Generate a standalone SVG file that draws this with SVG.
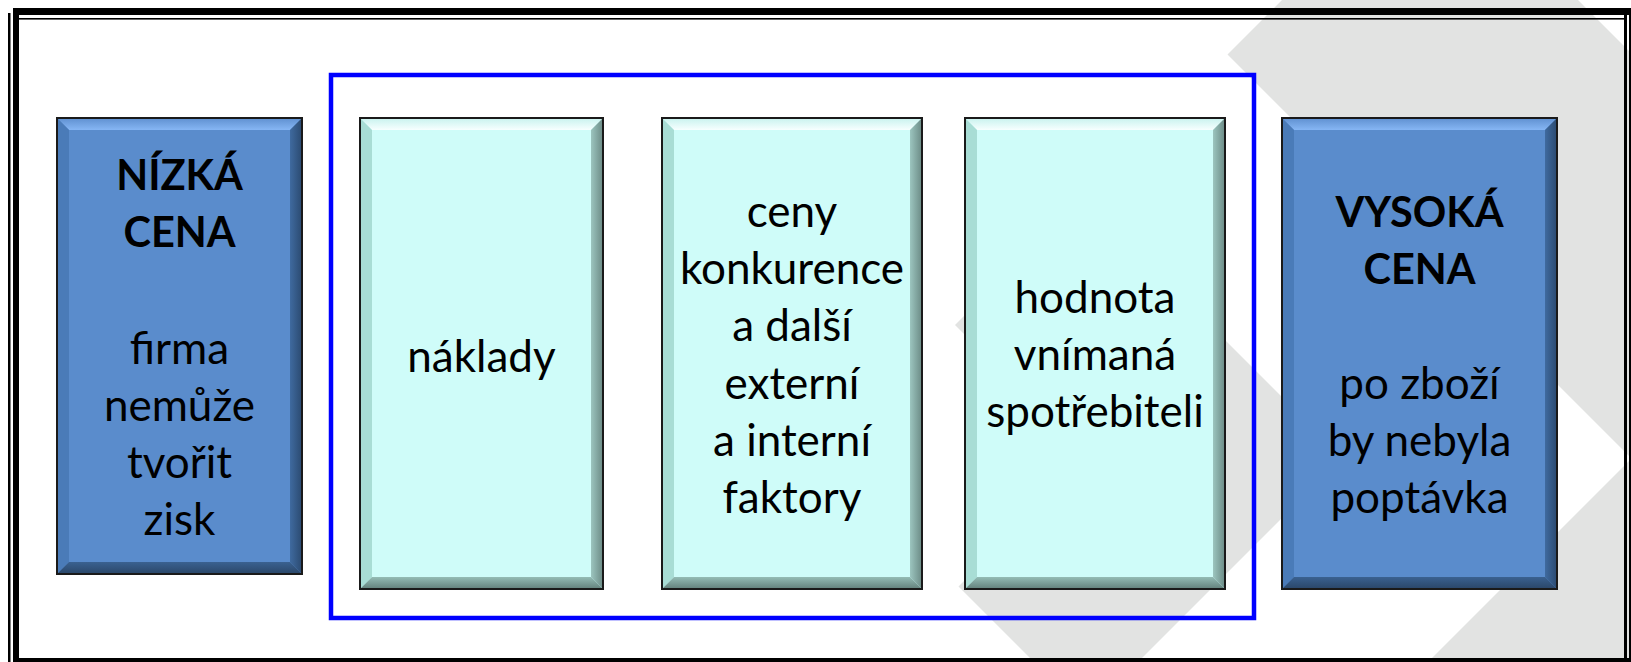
<svg xmlns="http://www.w3.org/2000/svg" width="1631" height="662" viewBox="0 0 1631 662">
<defs>
<style>
.bg{fill:#e2e3e2}
.t{font-family:Lato,"Liberation Sans",sans-serif;font-size:44px;fill:#000;text-anchor:middle}
.b{font-weight:700;font-size:41.5px}
.edge{fill:none;stroke:#1a1a1a;stroke-width:2}
.bl-base{fill:#5a8ccc}
.bl-top{fill:url(#blTop)}
.bl-left{fill:#4a7bb8}
.bl-right{fill:url(#blRight)}
.bl-bot{fill:url(#blBot)}
.tl-base{fill:#cffcf9}
.tl-top{fill:url(#tlTop)}
.tl-left{fill:#a8ddd5}
.tl-right{fill:url(#tlRight)}
.tl-bot{fill:url(#tlBot)}
.frame{fill:#000}
</style>
<linearGradient id="blTop" x1="0" y1="0" x2="0" y2="1"><stop offset="0" stop-color="#5f90d0"/><stop offset="1" stop-color="#86b6f4"/></linearGradient>
<linearGradient id="blRight" x1="0" y1="0" x2="1" y2="0"><stop offset="0" stop-color="#3f6a9f"/><stop offset="1" stop-color="#2b4a70"/></linearGradient>
<linearGradient id="blBot" x1="0" y1="0" x2="0" y2="1"><stop offset="0" stop-color="#3a6190"/><stop offset="1" stop-color="#2a4668"/></linearGradient>
<linearGradient id="tlTop" x1="0" y1="0" x2="0" y2="1"><stop offset="0" stop-color="#c8f2ee"/><stop offset="1" stop-color="#f7ffff"/></linearGradient>
<linearGradient id="tlRight" x1="0" y1="0" x2="1" y2="0"><stop offset="0" stop-color="#9cc5bf"/><stop offset="1" stop-color="#6b8a85"/></linearGradient>
<linearGradient id="tlBot" x1="0" y1="0" x2="0" y2="1"><stop offset="0" stop-color="#94bcb5"/><stop offset="1" stop-color="#62807b"/></linearGradient>
</defs>
<rect x="0" y="0" width="1631" height="662" fill="#fff"/>
<g id="background">
<polygon class="bg" points="1227.5,54.5 1430,-148 2036.5,458.5 1795,700 1390,700 1631.5,458.5"/>
<polygon class="bg" points="955,325 1082.5,197.5 1342.5,457.5 1086,714 958.5,586.5 1087.5,457.5"/>
</g>
<g id="frame">
<rect class="frame" x="13" y="8" width="1618" height="7"/>
<rect class="frame" x="19" y="18" width="1606" height="1.6"/>
<rect class="frame" x="8" y="13" width="2.5" height="649"/>
<rect class="frame" x="13" y="8" width="6" height="654"/>
<rect class="frame" x="1624" y="15" width="3" height="647"/>
<rect class="frame" x="1629" y="13" width="2" height="649"/>
<rect class="frame" x="13" y="658" width="1618" height="4"/>
</g>
<g id="group-factors">
<rect x="331" y="75" width="923" height="543" fill="none" stroke="#0000ff" stroke-width="4.5"/>
</g>
<g id="node-nizka">
<rect class="bl-base" x="57" y="118" width="245" height="456"/>
<polygon class="bl-top" points="57,118 302,118 290,130 69,130"/>
<polygon class="bl-left" points="57,118 69,130 69,562 57,574"/>
<polygon class="bl-right" points="302,118 302,574 290,562 290,130"/>
<polygon class="bl-bot" points="57,574 302,574 290,562 69,562"/>
<rect class="edge" x="57" y="118" width="245" height="456"/>
<text class="t b" x="179.5" y="190">NÍZKÁ</text>
<text class="t b" x="179.5" y="247">CENA</text>
<text class="t" x="179.5" y="364">firma</text>
<text class="t" x="179.5" y="421">nemůže</text>
<text class="t" x="179.5" y="478">tvořit</text>
<text class="t" x="179.5" y="535">zisk</text>
</g>
<g id="node-naklady">
<rect class="tl-base" x="360" y="118" width="243" height="471"/>
<polygon class="tl-top" points="360,118 603,118 591,130 372,130"/>
<polygon class="tl-left" points="360,118 372,130 372,577 360,589"/>
<polygon class="tl-right" points="603,118 603,589 591,577 591,130"/>
<polygon class="tl-bot" points="360,589 603,589 591,577 372,577"/>
<rect class="edge" x="360" y="118" width="243" height="471"/>
<text class="t" x="481.5" y="372">náklady</text>
</g>
<g id="node-ceny">
<rect class="tl-base" x="662" y="118" width="260" height="471"/>
<polygon class="tl-top" points="662,118 922,118 910,130 674,130"/>
<polygon class="tl-left" points="662,118 674,130 674,577 662,589"/>
<polygon class="tl-right" points="922,118 922,589 910,577 910,130"/>
<polygon class="tl-bot" points="662,589 922,589 910,577 674,577"/>
<rect class="edge" x="662" y="118" width="260" height="471"/>
<text class="t" x="792" y="227">ceny</text>
<text class="t" x="792" y="284">konkurence</text>
<text class="t" x="792" y="341">a další</text>
<text class="t" x="792" y="399">externí</text>
<text class="t" x="792" y="456">a interní</text>
<text class="t" x="792" y="513">faktory</text>
</g>
<g id="node-hodnota">
<rect class="tl-base" x="965" y="118" width="260" height="471"/>
<polygon class="tl-top" points="965,118 1225,118 1213,130 977,130"/>
<polygon class="tl-left" points="965,118 977,130 977,577 965,589"/>
<polygon class="tl-right" points="1225,118 1225,589 1213,577 1213,130"/>
<polygon class="tl-bot" points="965,589 1225,589 1213,577 977,577"/>
<rect class="edge" x="965" y="118" width="260" height="471"/>
<text class="t" x="1095" y="313">hodnota</text>
<text class="t" x="1095" y="370">vnímaná</text>
<text class="t" x="1095" y="427">spotřebiteli</text>
</g>
<g id="node-vysoka">
<rect class="bl-base" x="1282" y="118" width="275" height="471"/>
<polygon class="bl-top" points="1282,118 1557,118 1545,130 1294,130"/>
<polygon class="bl-left" points="1282,118 1294,130 1294,577 1282,589"/>
<polygon class="bl-right" points="1557,118 1557,589 1545,577 1545,130"/>
<polygon class="bl-bot" points="1282,589 1557,589 1545,577 1294,577"/>
<rect class="edge" x="1282" y="118" width="275" height="471"/>
<text class="t b" x="1419.5" y="227">VYSOKÁ</text>
<text class="t b" x="1419.5" y="284">CENA</text>
<text class="t" x="1419.5" y="399">po zboží</text>
<text class="t" x="1419.5" y="456">by nebyla</text>
<text class="t" x="1419.5" y="513">poptávka</text>
</g>
<g id="connectors"></g>
</svg>
